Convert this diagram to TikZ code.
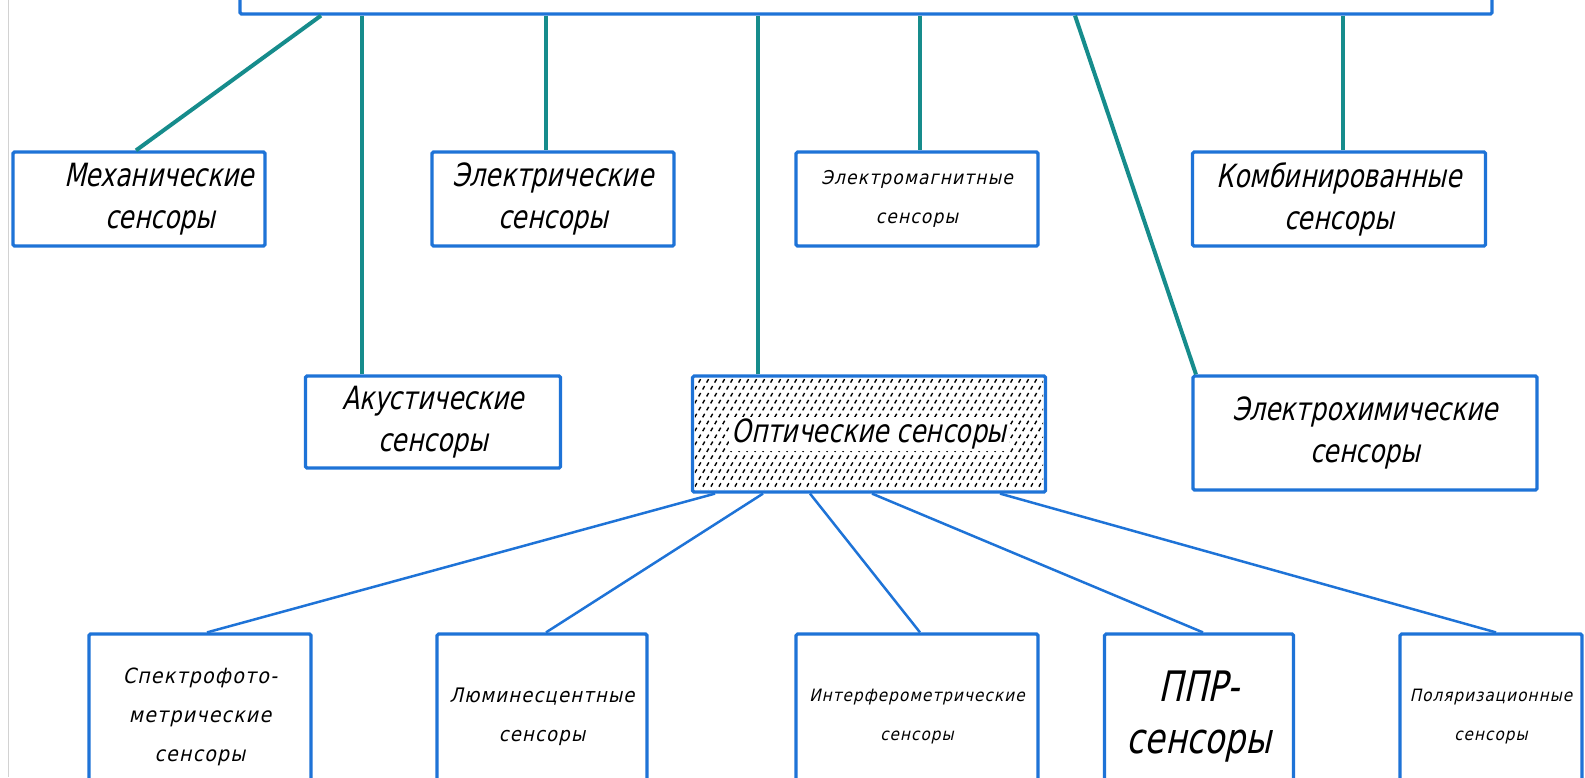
\documentclass[tikz,border=0pt]{standalone}
\usepackage{fontspec}
\newfontfamily\gost{DejaVu Sans}[FakeSlant=0.22,FakeStretch=0.78]
\newfontfamily\gostw{DejaVu Sans}[FakeSlant=0.22,FakeStretch=0.9,LetterSpace=6]
\usetikzlibrary{calc}
\definecolor{boxblue}{RGB}{30,115,215}
\definecolor{trunkteal}{RGB}{22,140,140}

\begin{document}
\begin{tikzpicture}[x=1pt,y=-1pt,
  box/.style={draw=boxblue,line width=3.2pt,rounded corners=1.5pt,fill=white,align=center,inner sep=0pt,minimum width=#1},
  trunk/.style={draw=trunkteal,line width=4pt},
  fan/.style={draw=boxblue,line width=2.5pt},
  hatch/.style={draw=black,line width=1.4pt,dash pattern=on 4pt off 4pt},
  big/.style={font=\gost\fontsize{32}{42}\selectfont},
  small/.style={font=\gostw\fontsize{#1}{39}\selectfont}]
\useasboundingbox (0,0) rectangle (1585,777);
\clip (0,0) rectangle (1585,777);
\draw[gray!35,line width=1pt] (8,0) -- (8,777);
\node[box=1252,minimum height=80] (top) at (866,-26) {};
\node[box=252,minimum height=94,big] (mech) at (139,199) {\hspace*{40pt}Механические\\\hspace*{42pt}сенсоры};
\node[box=242,minimum height=94,big] (elec) at (553,199) {Электрические\\сенсоры};
\node[box=242,minimum height=94,small=19] (em) at (917,199) {Электромагнитные\\сенсоры};
\node[box=293,minimum height=94,big] (comb) at (1339,199) {Комбинированные\\сенсоры};
\node[box=255,minimum height=92,big] (acou) at (433,422) {Акустические\\сенсоры};
\node[box=353,minimum height=116] (opt) at (869,434) {};
\node[box=344,minimum height=114,big] (echem) at (1365,433) {Электрохимические\\сенсоры};
\node[box=222,minimum height=166,small=21] (spec) at (200,717) {Спектрофото-\\метрические\\сенсоры};
\node[box=210,minimum height=166,small=20] (lum) at (542,717) {Люминесцентные\\сенсоры};
\node[box=242,minimum height=166,small=17] (intf) at (917,717) {Интерферометрические\\сенсоры};
\node[box=189,minimum height=166,font=\gost\fontsize{42}{52}\selectfont] (ppr) at (1199,717) {ППР-\\сенсоры};
\node[box=182,minimum height=166,small=17] (pol) at (1491,717) {Поляризационные\\сенсоры};
\begin{scope}
\clip ($(opt.south west)+(4,-4)$) rectangle ($(opt.north east)+(-4,4)$);
\foreach \i in {-10,...,46} \draw[hatch] ($(opt.south west)+(\i*8,0)$) -- ++(70,-122);
\end{scope}
\node[fill=white,inner sep=2pt,font=\gost\fontsize{32}{40}\selectfont] (optlbl) at (opt) {Оптические сенсоры};
\draw[trunk] (top.south -| 321,0) -- (mech.north -| 136,0);
\draw[trunk] (top.south -| 1075,0) -- (echem.north -| 1196,0);
\foreach \n/\x in {acou/362,elec/546,opt/758,em/920,comb/1343} \draw[trunk] (top.south -| \x,0) -- (\n.north -| \x,0);
\foreach \n/\a/\b in {spec/715/207,lum/763/546,intf/810/920,ppr/872/1203,pol/1000/1496} \draw[fan] (opt.south -| \a,0) -- (\n.north -| \b,0);
\end{tikzpicture}
\end{document}
